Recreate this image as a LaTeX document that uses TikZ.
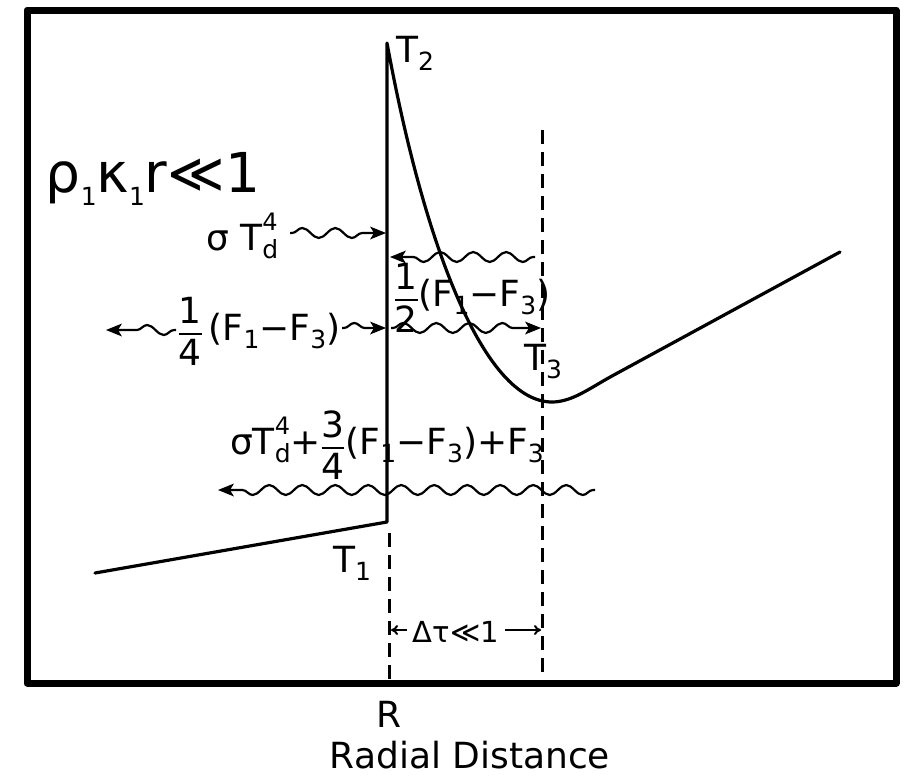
\documentclass[tikz,border=0pt]{standalone}
\usepackage{amsmath}
\usepackage{fontspec}
\setmainfont{DejaVu Sans}
\usetikzlibrary{decorations.pathmorphing,arrows.meta,calc}
\newcommand\sbs[1]{\raisebox{-0.45ex}{\fontsize{25}{25}\selectfont #1}}
\newcommand\sps[1]{\raisebox{1.0ex}{\fontsize{24}{24}\selectfont #1}}
\newcommand\Tdf{T\rlap{\sbs{d}}\sps{4}}
\newcommand\frc[2]{\ensuremath{\genfrac{}{}{1.6pt}{0}{\mbox{#1}}{\mbox{#2}}}}
\tikzset{
  frame/.style={line width=7pt, line join=round},
  curve/.style={line width=3.2pt, line join=round, line cap=round},
  dashline/.style={line width=3pt, dash pattern=on 14pt off 8pt},
  wave/.style={line width=2.2pt, decorate,
    decoration={snake, segment length=33pt, amplitude=5pt, pre length=2pt, post length=4pt}},
  tipfill/.style={fill=black, line join=round},
  lab/.style={font=\fontsize{36}{40}\selectfont, inner sep=0pt, anchor=base},
  smalllab/.style={font=\fontsize{29}{32}\selectfont, inner sep=0pt, anchor=base},
}
% filled tip pointing right (#2=1) or left (#2=-1) at coordinate #1
\newcommand\wtip[2]{\fill[tipfill] (#1) -- ++(-16*#2,-6.5) -- ++(4*#2,6.5) -- ++(-4*#2,6.5) -- cycle;}
\begin{document}
\begin{tikzpicture}[x=1pt,y=-1pt]
\useasboundingbox (0,0) rectangle (909,779);
% frame
\draw[frame] (27,10) rectangle (896,683);
% profile
\coordinate (T1s) at (95,573);
\coordinate (R1) at (387,522);
\coordinate (R2) at (387,43);
\coordinate (Mn) at (552,402);
\coordinate (Bd) at (612,376);
\coordinate (Ed) at (840,252);
\draw[curve] (T1s) -- (R1) -- (R2) .. controls (425,250) and (485,402) .. (Mn)
   .. controls (572,402) and (590,388) .. (Bd) -- (Ed);
% dashed lines
\coordinate (DRa) at (389,533);
\coordinate (DRb) at (389,680);
\coordinate (DSa) at (542,130);
\coordinate (DSb) at (542,680);
\draw[dashline] (DRa) -- (DRb);
\draw[dashline] (DSa) -- (DSb);
% labels
\node[lab] (t2) at (415,62) {T\sbs{2}};
\node[lab] (t3) at (543,370) {T\sbs{3}};
\node[lab] (t1) at (352,572) {T\sbs{1}};
\node[lab] (r) at (389,727) {R};
\node[lab] (rd) at (470,768) {Radial Distance};
\node[font=\fontsize{55}{58}\selectfont, inner sep=0pt, anchor=base] (cond) at (153,192)
  {ρ\sbs{1}κ\sbs{1}r≪1};
\node[lab] (l1) at (242,250) {σ \Tdf};
\node[lab] (l2) at (472,306) {\frc{1}{2}(F\sbs{1}−F\sbs{3})};
\node[lab] (l3) at (259,340) {\frc{1}{4}\,(F\sbs{1}−F\sbs{3})};
\node[lab] (l4) at (387,454) {σ\Tdf+\frc{3}{4}(F\sbs{1}−F\sbs{3})+F\sbs{3}};
\node[smalllab] (dt) at (456,642) {Δτ≪1};
% Delta tau arrows
\coordinate (dtl) at (391,630);
\coordinate (dtr) at (541,630);
\draw[line width=2pt, -{To[length=7pt,width=10pt]}] (dt.west |- dtl) ++(-6,0) -- (dtl);
\draw[line width=2pt, -{To[length=7pt,width=10pt]}] (dt.east |- dtr) ++(6,0) -- (dtr);
% wavy arrows
\coordinate (w1a) at (290,233);
\coordinate (w1b) at (386,233);
\draw[wave] (w1a) -- ($(w1b)+(-12,0)$);
\wtip{w1b}{1}
\coordinate (w2a) at (535,257);
\coordinate (w2b) at (390,257);
\draw[wave] (w2a) -- ($(w2b)+(12,0)$);
\wtip{w2b}{-1}
\coordinate (w3a) at (176,330);
\coordinate (w3b) at (106,330);
\draw[wave] (w3a) -- ($(w3b)+(12,0)$);
\wtip{w3b}{-1}
\coordinate (w4a) at (342,328);
\coordinate (w4b) at (386,328);
\draw[wave] (w4a) -- ($(w4b)+(-12,0)$);
\wtip{w4b}{1}
\coordinate (w5a) at (391,328);
\coordinate (w5b) at (541,328);
\draw[wave] (w5a) -- ($(w5b)+(-12,0)$);
\wtip{w5b}{1}
\coordinate (w6a) at (595,490);
\coordinate (w6b) at (218,490);
\draw[wave] (w6a) -- ($(w6b)+(12,0)$);
\wtip{w6b}{-1}
\end{tikzpicture}
\end{document}
